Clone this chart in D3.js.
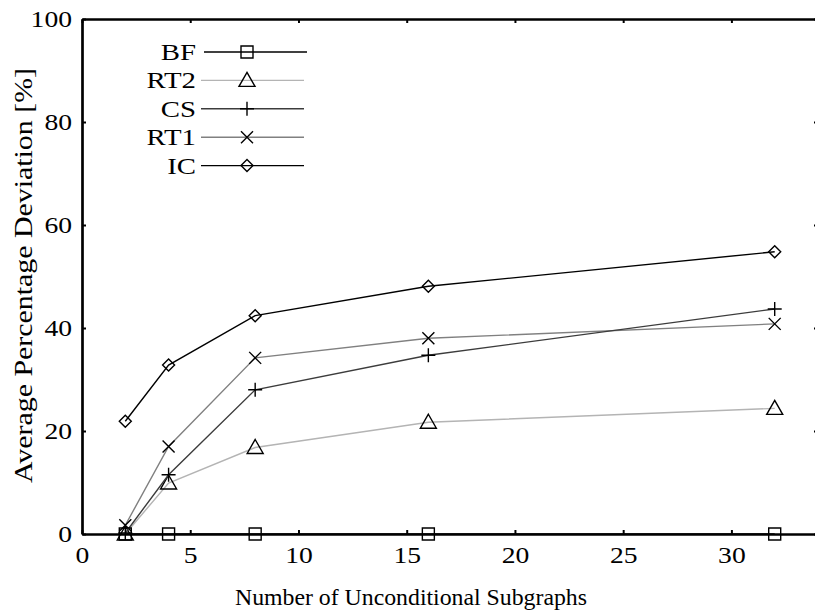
<!DOCTYPE html>
<html>
<head>
<meta charset="utf-8">
<script src="https://cdn.jsdelivr.net/npm/d3@7"></script>
<style>
  body { margin: 0; background: #fff; }
  svg { display: block; }
</style>
</head>
<body>
<div id="graph"></div>
<script>
// data
var subgraphs = [2, 4, 8, 16, 32];
var seriesNames = ['BF', 'RT2', 'CS', 'RT1', 'IC'];
var bfValues  = [0, 0, 0, 0, 0];
var rt2Values = [0, 9.9, 16.8, 21.7, 24.4];
var csValues  = [0.2, 11.5, 28, 34.7, 43.7];
var rt1Values = [1.7, 17, 34.2, 38, 40.8];
var icValues  = [21.9, 32.8, 42.4, 48.1, 54.8];
var xTicks = [0, 5, 10, 15, 20, 25, 30];
var yTicks = [0, 20, 40, 60, 80, 100];

var seriesValues = [bfValues, rt2Values, csValues, rt1Values, icValues];
var lineColors = ['#000000', '#b4b4b4', '#3c3c3c', '#808080', '#000000'];
var symbols = ['square', 'triangle', 'plus', 'cross', 'diamond'];

var FONT = 'Liberation Serif';
var width = 815, height = 614;
var m = { left: 82, right: -3, top: 19, bottom: 80 };

var svg = d3.select('#graph').append('svg')
    .attr('width', width).attr('height', height);

var x = d3.scaleLinear().domain([0, 34]).range([m.left, width - m.right]);
var y = d3.scaleLinear().domain([0, 100]).range([height - m.bottom, m.top]);

// the original face is a wide schoolbook serif, so stretch Liberation a bit
function widen(sel, factor) {
  sel.each(function() {
    var w = this.getComputedTextLength();
    d3.select(this).attr('textLength', w * factor).attr('lengthAdjust', 'spacingAndGlyphs');
  });
}

function styleAxis(g) {
  g.attr('font-family', FONT).attr('font-size', 24);
  g.select('.domain').attr('stroke-width', 2.7);
  g.selectAll('.tick line').attr('stroke-width', 2);
  g.selectAll('.tick text').attr('fill', '#000');
}

// axes, ticks pointing inward
svg.append('g')
    .attr('transform', 'translate(0,' + y(0) + ')')
    .call(d3.axisBottom(x).tickValues(xTicks).tickSizeInner(-4).tickSizeOuter(0).tickPadding(12))
    .call(styleAxis)
    .call(function(g) { widen(g.selectAll('.tick text'), 1.15); });

svg.append('g')
    .attr('transform', 'translate(0,' + y(100) + ')')
    .call(d3.axisTop(x).tickValues(xTicks).tickSizeInner(-4).tickSizeOuter(0).tickFormat(''))
    .call(styleAxis);

svg.append('g')
    .attr('transform', 'translate(' + x(0) + ',0)')
    .call(d3.axisLeft(y).tickValues(yTicks).tickSizeInner(-4).tickSizeOuter(0).tickPadding(10))
    .call(styleAxis)
    .call(function(g) { widen(g.selectAll('.tick text'), 1.15); });

svg.append('g')
    .attr('transform', 'translate(' + x(34) + ',0)')
    .call(d3.axisRight(y).tickValues(yTicks).tickSizeInner(-4).tickSizeOuter(0).tickFormat(''))
    .call(styleAxis)
    .call(function(g) { g.select('.domain').remove(); });

// axis titles
svg.append('text')
    .attr('x', 411).attr('y', 605)
    .attr('text-anchor', 'middle').attr('font-family', FONT).attr('font-size', 24)
    .attr('textLength', 352).attr('lengthAdjust', 'spacingAndGlyphs')
    .text('Number of Unconditional Subgraphs');

svg.append('text')
    .attr('transform', 'translate(32,275.5) rotate(-90)')
    .attr('text-anchor', 'middle').attr('font-family', FONT).attr('font-size', 25)
    .attr('textLength', 415).attr('lengthAdjust', 'spacingAndGlyphs')
    .text('Average Percentage Deviation [%]');

function markerPath(kind) {
  if (kind === 'square') return 'M-6,-6H6V6H-6Z';
  if (kind === 'triangle') return 'M0,-8L8,6H-8Z';
  if (kind === 'plus') return 'M-7,0H7M0,-7V7';
  if (kind === 'cross') return 'M-6,-6L6,6M-6,6L6,-6';
  return 'M0,-6L6,0L0,6L-6,0Z';
}

var line = d3.line()
    .x(function(d, i) { return x(subgraphs[i]); })
    .y(function(d) { return y(d); });

// draw the lighter lines first so darker ones sit on top
var order = [1, 3, 2, 4, 0];
order.forEach(function(s) {
  var g = svg.append('g');
  g.append('path')
      .attr('d', line(seriesValues[s]))
      .attr('fill', 'none')
      .attr('stroke', lineColors[s])
      .attr('stroke-width', 1.4);
  g.selectAll('path.mk').data(seriesValues[s])
    .enter().append('path')
      .attr('class', 'mk')
      .attr('transform', function(d, i) { return 'translate(' + x(subgraphs[i]) + ',' + y(d) + ')'; })
      .attr('d', markerPath(symbols[s]))
      .attr('fill', 'none')
      .attr('stroke', '#000')
      .attr('stroke-width', 1.4);
});

// legend
var legend = svg.append('g');
seriesNames.forEach(function(name, s) {
  var ly = 52 + s * 28.4;
  legend.append('text')
      .attr('x', 196).attr('y', ly + 8)
      .attr('text-anchor', 'end').attr('font-family', FONT).attr('font-size', 24)
      .text(name);
  legend.append('line')
      .attr('x1', s === 0 ? 204 : 201).attr('x2', s === 0 ? 307 : 304)
      .attr('y1', ly).attr('y2', ly)
      .attr('stroke', lineColors[s]).attr('stroke-width', 1.4);
  legend.append('path')
      .attr('transform', 'translate(247,' + ly + ')')
      .attr('d', markerPath(symbols[s]))
      .attr('fill', 'none').attr('stroke', '#000').attr('stroke-width', 1.4);
});
widen(legend.selectAll('text'), 1.2);
</script>
</body>
</html>
